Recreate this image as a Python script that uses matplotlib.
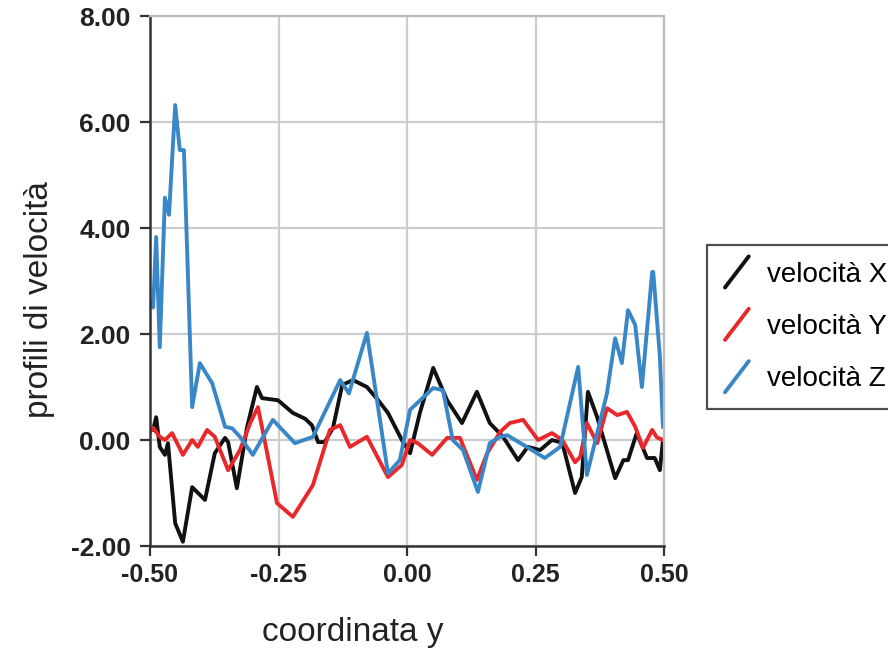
import matplotlib
matplotlib.use("Agg")
import matplotlib.pyplot as plt
from matplotlib.legend_handler import HandlerBase
from matplotlib.lines import Line2D

# ---- data ----
x_vx = [-0.494, -0.488, -0.481, -0.471, -0.465, -0.451, -0.436, -0.418, -0.393, -0.374,
        -0.354, -0.348, -0.331, -0.311, -0.292, -0.282, -0.251, -0.222, -0.198, -0.185,
        -0.173, -0.160, -0.144, -0.126, -0.105, -0.078, -0.056, -0.037, -0.010, 0.006,
        0.025, 0.051, 0.078, 0.107, 0.136, 0.161, 0.187, 0.216, 0.235, 0.259,
        0.282, 0.302, 0.327, 0.340, 0.352, 0.370, 0.405, 0.421, 0.430, 0.447,
        0.467, 0.482, 0.492, 0.498]
y_vx = [0.19, 0.43, -0.13, -0.28, -0.06, -1.57, -1.92, -0.89, -1.13, -0.25,
        0.04, -0.04, -0.91, 0.25, 1.00, 0.79, 0.75, 0.51, 0.40, 0.28,
        -0.04, -0.04, 0.23, 1.04, 1.13, 1.00, 0.75, 0.51, 0.00, -0.25,
        0.51, 1.36, 0.75, 0.32, 0.91, 0.32, 0.06, -0.38, -0.13, -0.19,
        0.00, -0.05, -1.00, -0.70, 0.91, 0.43, -0.72, -0.38, -0.38, 0.13,
        -0.34, -0.34, -0.57, 0.00]

x_vy = [-0.500, -0.494, -0.481, -0.471, -0.457, -0.436, -0.418, -0.407, -0.389, -0.374,
        -0.348, -0.325, -0.305, -0.290, -0.272, -0.253, -0.222, -0.183, -0.150, -0.130,
        -0.111, -0.078, -0.037, -0.010, 0.006, 0.021, 0.049, 0.078, 0.103, 0.136,
        0.156, 0.181, 0.200, 0.226, 0.255, 0.282, 0.302, 0.327, 0.337, 0.350,
        0.370, 0.389, 0.409, 0.428, 0.444, 0.459, 0.477, 0.486, 0.498]
y_vy = [0.15, 0.23, 0.06, 0.00, 0.13, -0.28, 0.00, -0.13, 0.19, 0.06,
        -0.57, -0.19, 0.32, 0.62, -0.25, -1.19, -1.45, -0.85, 0.19, 0.28,
        -0.13, 0.06, -0.70, -0.47, 0.00, -0.06, -0.28, 0.04, 0.04, -0.75,
        -0.25, 0.15, 0.32, 0.38, 0.00, 0.13, 0.00, -0.42, -0.32, 0.32,
        -0.06, 0.60, 0.47, 0.53, 0.25, -0.15, 0.19, 0.05, 0.00]

x_vz = [-0.500, -0.494, -0.488, -0.481, -0.471, -0.463, -0.451, -0.442, -0.434, -0.418,
        -0.403, -0.379, -0.354, -0.340, -0.325, -0.300, -0.261, -0.218, -0.183, -0.130,
        -0.113, -0.078, -0.037, -0.014, 0.006, 0.051, 0.070, 0.089, 0.109, 0.138,
        0.161, 0.181, 0.195, 0.233, 0.268, 0.298, 0.333, 0.350, 0.389, 0.405,
        0.418, 0.430, 0.444, 0.457, 0.477, 0.479, 0.492, 0.498]
y_vz = [2.60, 2.50, 3.83, 1.75, 4.57, 4.25, 6.32, 5.47, 5.47, 0.62,
        1.45, 1.07, 0.25, 0.22, 0.06, -0.28, 0.38, -0.06, 0.06, 1.13,
        0.88, 2.02, -0.63, -0.38, 0.57, 0.98, 0.94, 0.00, -0.19, -0.98,
        -0.06, 0.06, 0.09, -0.13, -0.34, -0.13, 1.38, -0.66, 0.88, 1.92,
        1.45, 2.45, 2.17, 1.00, 3.17, 3.17, 1.57, 0.25]

labels = ["velocità X", "velocità Y", "velocità Z"]
colors = ["#111111", "#e8282b", "#3a87c8"]
x_ticks = [-0.50, -0.25, 0.00, 0.25, 0.50]
y_ticks = [-2.0, 0.0, 2.0, 4.0, 6.0, 8.0]


class DiagonalHandler(HandlerBase):
    def create_artists(self, legend, orig_handle, xdescent, ydescent,
                       width, height, fontsize, trans):
        line = Line2D([xdescent + 0.05 * width, xdescent + 0.95 * width],
                      [ydescent - 0.3 * height, ydescent + 1.3 * height],
                      color=orig_handle.get_color(), lw=orig_handle.get_linewidth(),
                      solid_capstyle="round")
        line.set_transform(trans)
        return [line]


plt.rcParams["font.family"] = ["Liberation Sans", "DejaVu Sans"]

fig = plt.figure(figsize=(8.88, 6.53), dpi=100)
ax = fig.add_axes([150 / 888, 1 - 546 / 653, (664 - 150) / 888, (546 - 16) / 653])

handles = []
for xs, ys, c, lab in zip([x_vx, x_vy, x_vz], [y_vx, y_vy, y_vz], colors, labels):
    h, = ax.plot(xs, ys, color=c, lw=2.8, label=lab, solid_joinstyle="round")
    handles.append(h)

ax.set_xlim(-0.5, 0.5)
ax.set_ylim(-2, 8)
ax.set_xticks(x_ticks)
ax.set_yticks(y_ticks)
ax.set_xticklabels([f"{v:.2f}" for v in x_ticks])
ax.set_yticklabels([f"{v:.2f}" for v in y_ticks])
ax.grid(True, color="#cccccc", lw=1.6)
ax.set_axisbelow(True)

for s in ["top", "right"]:
    ax.spines[s].set_color("#bbbbbb")
    ax.spines[s].set_linewidth(1.6)
for s in ["left", "bottom"]:
    ax.spines[s].set_color("#333333")
    ax.spines[s].set_linewidth(1.8)

ax.tick_params(axis="both", direction="out", length=7, width=1.6, color="#333333",
               labelsize=18, labelcolor="#222222")
ax.tick_params(axis="y", pad=7, labelsize=19)
ax.tick_params(axis="x", pad=5)
for t in ax.get_xticklabels() + ax.get_yticklabels():
    t.set_fontweight("bold")

fig.text(353 / 888, 1 - 633 / 653, "coordinata y", fontsize=24, color="#222222",
         ha="center", va="center")
fig.text(40 / 888, 1 - 300 / 653, "profili di velocità", fontsize=24, color="#222222",
         ha="center", va="center", rotation=90)

leg = fig.legend(handles=handles, labels=labels, loc="upper left",
                 bbox_to_anchor=(707 / 888, 1 - 245 / 653), fontsize=20,
                 handler_map={Line2D: DiagonalHandler()}, handlelength=0.95,
                 handleheight=0.7, handletextpad=0.6, labelspacing=0.95,
                 borderpad=0.6, frameon=True, fancybox=False, borderaxespad=0)
leg.get_frame().set_edgecolor("#222222")
leg.get_frame().set_linewidth(1.6)

fig.savefig("out.png", dpi=100)
